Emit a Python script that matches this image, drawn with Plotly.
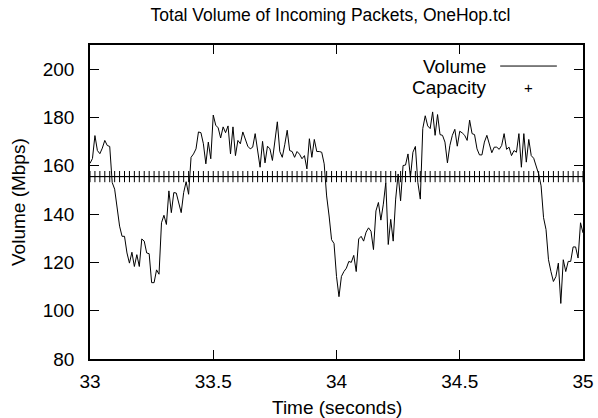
import numpy as np
import plotly.graph_objects as go

# ---- data ----
t_start = 33.0
t_step = 0.01
volume = [
    161, 163, 172.5, 166.3, 165, 167.3, 170.5, 168.4, 168, 153.1,
    150.3, 142.7, 135, 130.8, 130.8, 123.9, 119.7, 124.2, 118.3, 123.2,
    118.3, 129.7, 128.8, 123.9, 123.6, 111.6, 111.6, 116.9, 115.1, 136.4,
    139.5, 135.7, 149.6, 140.6, 148.9, 148.7, 144.8, 140.6, 148.9, 153.4,
    148.2, 163.5, 164.9, 167, 174, 173.7, 169.1, 160.8, 169.8, 162.9,
    181, 176.8, 175.7, 171.5, 176.1, 173.7, 176.5, 164.9, 176.1, 164.2,
    170.5, 169.1, 174, 170.5, 168.1, 167, 167.7, 173.3, 167, 159.4,
    170.1, 161.2, 168.1, 167, 162.2, 169.8, 178.2, 165.9, 163.5, 168.7,
    174.7, 166.3, 165.9, 163.5, 165.9, 164.8, 162.9, 164.2, 158.7, 171.2,
    163.5, 170.9, 165.9, 165.9, 165.6, 160.8, 147.5, 139.2, 129.4, 127.8,
    114.2, 105.8, 114.2, 116.2, 117.6, 120.4, 120, 122.9, 116.2, 129.7,
    130.8, 128.8, 132.5, 134.3, 132.9, 125.3, 141.3, 144.8, 137.5, 144.1,
    153.1, 127.4, 137.8, 128.8, 146.2, 156.6, 145.5, 160.1, 160.3, 164.9,
    155.2, 165.6, 168, 153.1, 146.2, 175.4, 180.7, 176.5, 175.4, 182.3,
    172.6, 181.2, 172.9, 172.6, 169.8, 161.2, 168.4, 172.6, 175.1, 168.1,
    174.3, 173.6, 172.6, 170.5, 178.9, 173.3, 172.9, 167, 164.5, 164.5,
    169.8, 172.6, 168.7, 165.4, 167.7, 167.7, 166.8, 168.4, 173.3, 166.8,
    167.7, 164.2, 166.3, 165.6, 173.3, 159.4, 173.3, 161.5, 170.9, 164.2,
    163.1, 160.1, 156.6, 151.7, 138.5, 133.6, 121.1, 116.2, 112.1, 114.1,
    119.7, 103, 121.1, 116.2, 120.4, 120.4, 126.4, 126.4, 121.8, 136.4,
    132.2,
]
capacity_value = 155.52
capacity_step = 0.02
x_ticks = [33, 33.5, 34, 34.5, 35]
x_tick_labels = ["33", "33.5", "34", "34.5", "35"]
y_ticks = [80, 100, 120, 140, 160, 180, 200]

time = t_start + t_step * np.arange(len(volume))
cap_time = np.arange(t_start, 35.0 + 1e-9, capacity_step)
capacity = [capacity_value] * len(cap_time)

FONT = "Liberation Sans, Arial, sans-serif"
FS = 19

fig = go.Figure()
fig.add_trace(go.Scatter(x=time, y=volume, mode="lines",
                         line=dict(color="black", width=1), name="Volume",
                         showlegend=False))
fig.add_trace(go.Scatter(x=cap_time, y=capacity, mode="markers",
                         marker=dict(symbol="cross-thin", size=8,
                                     line=dict(color="black", width=1),
                                     color="black"),
                         name="Capacity", showlegend=False))

axis_common = dict(showline=True, linecolor="black", linewidth=1.5,
                   mirror="allticks", ticks="inside", ticklen=9,
                   tickwidth=1, tickcolor="black", showgrid=False,
                   zeroline=False, automargin=False,
                   tickfont=dict(family=FONT, size=FS, color="black"))

fig.update_layout(
    width=598, height=418,
    margin=dict(l=90, r=15, t=45, b=59),
    paper_bgcolor="white", plot_bgcolor="white",
    title=dict(text="Total Volume of Incoming Packets, OneHop.tcl",
               x=0.5527, xanchor="center", y=0.964, yanchor="middle",
               font=dict(family=FONT, size=17.5, color="black")),
    xaxis=dict(range=[33, 35], tickvals=x_ticks, ticktext=x_tick_labels,
               ticklabelstandoff=4, **axis_common),
    yaxis=dict(range=[80, 210], tickvals=y_ticks, ticklabelstandoff=10,
               **axis_common),
    showlegend=False,
)

# axis titles
fig.add_annotation(x=0.501, y=-0.156, xref="paper", yref="paper",
                   text="Time (seconds)", showarrow=False,
                   xanchor="center", yanchor="middle",
                   font=dict(family=FONT, size=FS, color="black"))
fig.add_annotation(x=-0.146, y=0.5, xref="paper", yref="paper",
                   text="Volume (Mbps)", showarrow=False, textangle=-90,
                   xanchor="center", yanchor="middle",
                   font=dict(family=FONT, size=FS, color="black"))

# legend drawn gnuplot-style: text on the left, sample on the right
fig.add_annotation(x=0.807, y=0.93, xref="paper", yref="paper",
                   text="Volume", showarrow=False, xanchor="right",
                   yanchor="middle",
                   font=dict(family=FONT, size=FS, color="black"))
fig.add_annotation(x=0.807, y=0.866, xref="paper", yref="paper",
                   text="Capacity", showarrow=False, xanchor="right",
                   yanchor="middle",
                   font=dict(family=FONT, size=FS, color="black"))
fig.add_shape(type="line", xref="paper", yref="paper",
              x0=0.832, x1=0.947, y0=0.933, y1=0.933,
              line=dict(color="black", width=1))
fig.add_annotation(x=0.89, y=0.866, xref="paper", yref="paper",
                   text="+", showarrow=False, xanchor="center",
                   yanchor="middle",
                   font=dict(family=FONT, size=FS - 4, color="black"))

fig.write_html("out.html")
